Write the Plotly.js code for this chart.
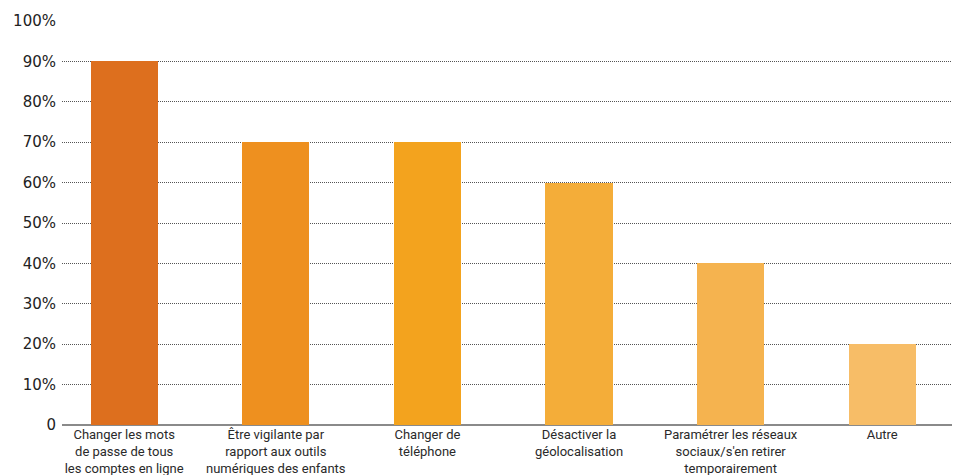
<!DOCTYPE html>
<html>
<head>
<meta charset="utf-8">
<script src="https://cdn.plot.ly/plotly-3.0.1.min.js"></script>
<style>
  html, body { margin: 0; padding: 0; background: #ffffff; }
  #chart { width: 953px; height: 475px; }
</style>
</head>
<body>
<div id="chart"></div>
<script>
// Actions taken (share of respondents, %)
const categories = [
  "Changer les mots<br>de passe de tous<br>les comptes en ligne",
  "Être vigilante par<br>rapport aux outils<br>numériques des enfants",
  "Changer de<br>téléphone",
  "Désactiver la<br>géolocalisation",
  "Paramétrer les réseaux<br>sociaux/s'en retirer<br>temporairement",
  "Autre"
];
const values = [90, 70, 70, 60, 40, 20];
const barColors = ["#DD6F1E", "#EE901F", "#F3A31E", "#F4AD39", "#F5B34F", "#F7BD67"];
const tickValues = [0, 10, 20, 30, 40, 50, 60, 70, 80, 90, 100];
const tickLabels = ["0", "10%", "20%", "30%", "40%", "50%", "60%", "70%", "80%", "90%", "100%"];

const trace = {
  type: "bar",
  x: categories.map((_, i) => i),
  y: values,
  width: 0.443,
  marker: { color: barColors, line: { width: 0 } },
  hoverinfo: "skip"
};

const layout = {
  width: 953,
  height: 475,
  margin: { l: 62, r: 1, t: 21, b: 50, pad: 0 },
  paper_bgcolor: "#ffffff",
  plot_bgcolor: "#ffffff",
  showlegend: false,
  bargap: 0,
  xaxis: {
    range: [-0.41, 5.46],
    tickmode: "array",
    tickvals: categories.map((_, i) => i),
    ticktext: categories,
    tickfont: { family: "Roboto, sans-serif", size: 13, color: "#2a2a2a" },
    ticks: "",
    showgrid: false,
    zeroline: false,
    showline: false,
    fixedrange: true
  },
  yaxis: {
    range: [0, 100],
    tickmode: "array",
    tickvals: tickValues,
    ticktext: tickLabels,
    tickfont: { family: "'DejaVu Sans', sans-serif", size: 15, color: "#222222" },
    ticks: "",
    ticklabelstandoff: 5,
    showgrid: true,
    gridcolor: "#555555",
    gridwidth: 1,
    griddash: "1px,1px",
    zeroline: true,
    zerolinecolor: "#8a8a8a",
    zerolinewidth: 2,
    showline: false,
    fixedrange: true
  }
};

Plotly.newPlot("chart", [trace], layout, { displayModeBar: false, staticPlot: true });
</script>
</body>
</html>
